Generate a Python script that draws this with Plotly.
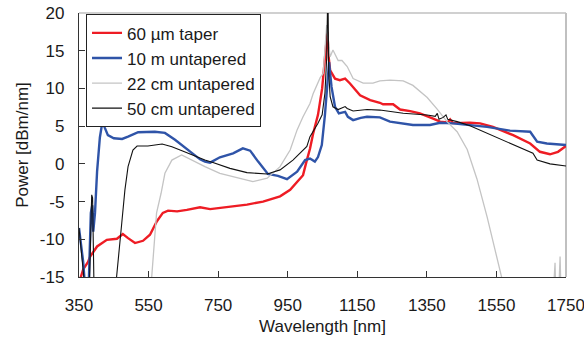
import plotly.graph_objects as go

# ---------------- data ----------------
taper_wl = [352, 362, 376, 382, 402, 430, 459, 476, 491, 511, 534, 554, 574, 591, 606, 632, 660,
            698, 727, 775, 833, 879, 928, 957, 977, 994, 1005, 1014, 1023, 1037, 1049, 1057, 1062,
            1064, 1068, 1072, 1086, 1100, 1115, 1129, 1158, 1187, 1215, 1224, 1253, 1273, 1302,
            1330, 1368, 1388, 1410, 1417, 1425, 1474, 1503, 1540, 1598, 1647, 1675, 1704, 1727, 1750]
taper_pw = [-15.5, -14.0, -13.0, -12.3, -10.95, -10.07, -9.93, -9.3, -9.85, -10.5, -10.2, -9.4,
            -7.6, -6.5, -6.2, -6.3, -6.1, -5.75, -6.0, -5.75, -5.4, -5.0, -4.3, -3.45, -2.4, -1.5,
            0.5, 2.0, 4.0, 6.5, 10.0, 14.0, 17.0, 17.5, 14.0, 12.4, 11.3, 11.1, 11.3, 10.66, 9.1,
            8.45, 8.1, 7.9, 7.9, 7.2, 7.0, 6.7, 6.0, 5.6, 5.5, 5.9, 5.4, 5.45, 5.37, 4.9, 3.8,
            2.7, 1.6, 1.27, 1.6, 2.37]

m10_wl = [350, 362, 367, 378, 384, 388, 391, 394, 396, 402, 410, 416, 419, 424, 433, 450, 474,
          491, 520, 568, 597, 626, 663, 698, 712, 727, 755, 793, 821, 842, 865, 893, 922, 948,
          977, 1000, 1014, 1028, 1037, 1048, 1057, 1064, 1067, 1069, 1072, 1076, 1086, 1097,
          1106, 1115, 1123, 1138, 1160, 1178, 1215, 1244, 1310, 1359, 1388, 1425, 1523, 1589,
          1647, 1667, 1695, 1750]
m10_pw = [-8.5, -13.0, -16.0, -16.0, -6.5, -5.5, -9.0, -7.0, -6.5, -1.0, 3.5, 5.2, 5.45, 4.8,
          3.8, 3.4, 3.3, 3.6, 4.2, 4.26, 4.1, 3.2, 1.84, 0.6, 0.3, 0.16, 0.87, 1.4, 2.06, 1.75,
          0.3, -1.34, -1.6, -2.04, -1.03, 0.5, 0.7, 0.3, 0.9, 2.5, 6.5, 11.0, 13.4, 13.5, 12.0,
          10.2, 7.57, 6.7, 6.8, 6.9, 6.24, 5.8, 6.1, 6.24, 6.16, 5.6, 5.15, 5.15, 5.45, 5.37,
          4.9, 4.4, 4.26, 2.94, 2.7, 2.5]

cm22_wl = [555, 559, 573, 586, 597, 617, 645, 674, 712, 755, 813, 850, 891, 928, 957, 977, 994,
           1014, 1023, 1043, 1052, 1060, 1062, 1065, 1072, 1080, 1095, 1106, 1121, 1138, 1167,
           1195, 1215, 1244, 1282, 1310, 1351, 1379, 1408, 1437, 1466, 1494, 1523, 1546, 1565,
           1570, 1715, 1718.5, 1720, 1730, 1733, 1735, 1750]
cm22_pw = [-16.0, -15.0, -6.5, -3.9, -1.25, 0.5, 1.18, 0.5, -0.37, -1.25, -1.9, -2.35, -1.9,
           -0.37, 1.84, 4.5, 6.24, 8.0, 9.3, 11.4, 12.0, 17.7, 18.4, 17.0, 14.2, 15.1, 13.7, 13.7,
           12.9, 11.3, 10.7, 10.7, 11.0, 11.1, 11.0, 10.4, 8.8, 7.3, 5.6, 4.26, 1.9, -2.0, -7.0,
           -11.4, -15.0, -16.0, -16.0, -13.1, -16.0, -16.0, -12.3, -16.0, -16.0]

cm50_wl = [350, 356, 362, 366, 380, 383, 386.5, 389, 391, 393, 455, 458, 473, 482, 491, 505,
           517, 548, 589, 617, 646, 675, 712, 735, 784, 833, 891, 928, 965, 1005, 1014, 1037,
           1049, 1057, 1062, 1064.5, 1066, 1068, 1072, 1080, 1095, 1115, 1121, 1138, 1178, 1215,
           1282, 1351, 1374, 1380, 1385, 1397, 1405, 1410, 1437, 1474, 1569, 1655, 1667, 1704, 1750]
cm50_pw = [-8.5, -11.0, -14.0, -16.0, -16.0, -8.0, -4.1, -4.5, -10.0, -16.0, -16.0, -15.0, -7.8,
           -3.45, -0.37, 1.84, 2.37, 2.37, 2.63, 2.28, 1.75, 1.18, 0.5, 0.17, -0.6, -1.16, -1.34,
           -0.8, 0.5, 2.3, 3.6, 5.37, 6.5, 9.4, 14.0, 21.0, 21.0, 12.0, 8.9, 7.57, 7.2, 7.6,
           7.35, 7.0, 7.2, 7.13, 6.7, 6.47, 6.3, 6.7, 5.9, 6.16, 6.5, 5.9, 5.6, 5.05, 3.16, 1.4,
           0.5, 0.0, -0.28]

x_ticks = [350, 550, 750, 950, 1150, 1350, 1550, 1750]
y_ticks = [-15, -10, -5, 0, 5, 10, 15, 20]

FONT = "Liberation Sans, Arial, sans-serif"
TXT = "#1a1a1a"

fig = go.Figure()
fig.add_trace(go.Scatter(x=taper_wl, y=taper_pw, mode="lines", name="60 µm taper",
                         line=dict(color="#ee1c24", width=2.4)))
fig.add_trace(go.Scatter(x=m10_wl, y=m10_pw, mode="lines", name="10 m untapered",
                         line=dict(color="#2f54a8", width=2.4)))
fig.add_trace(go.Scatter(x=cm22_wl, y=cm22_pw, mode="lines", name="22 cm untapered",
                         line=dict(color="#c4c4c4", width=1.3)))
fig.add_trace(go.Scatter(x=cm50_wl, y=cm50_pw, mode="lines", name="50 cm untapered",
                         line=dict(color="#111111", width=1.1)))

fig.update_layout(
    width=584, height=347,
    margin=dict(l=79, r=18, t=13, b=70, autoexpand=False),
    paper_bgcolor="white", plot_bgcolor="white",
    font=dict(family=FONT, size=17, color=TXT),
    showlegend=True,
    legend=dict(x=0.0144, y=0.995, xanchor="left", yanchor="top",
                bgcolor="white", bordercolor="#222", borderwidth=1,
                font=dict(family=FONT, size=17, color=TXT),
                tracegroupgap=0, itemwidth=30),
    xaxis=dict(range=[350, 1750], tickmode="array", tickvals=x_ticks,
               ticktext=[str(v) for v in x_ticks], automargin=False,
               ticklabeloverflow="allow",
               ticks="inside", ticklen=6, tickcolor="#333", showgrid=False, zeroline=False,
               showline=True, linecolor="#333", linewidth=1.3, ticklabelstandoff=12,
               title=dict(text="Wavelength [nm]", font=dict(size=17, color=TXT), standoff=6)),
    yaxis=dict(range=[-15, 20], tickmode="array", tickvals=y_ticks,
               ticktext=[str(v) for v in y_ticks], automargin=False,
               ticklabeloverflow="allow",
               ticks="inside", ticklen=6, tickcolor="#333", showgrid=False, zeroline=False,
               showline=True, linecolor="#333", linewidth=1.3, ticklabelstandoff=10,
               title=dict(text="Power [dBm/nm]", font=dict(size=17, color=TXT), standoff=6)),
    shapes=[
        dict(type="line", xref="paper", yref="paper", x0=0, x1=1, y0=1, y1=1,
             line=dict(color="#c0c0c0", width=1.3), layer="below"),
        dict(type="line", xref="paper", yref="paper", x0=1, x1=1, y0=0, y1=1,
             line=dict(color="#c0c0c0", width=2), layer="below"),
    ],
)

fig.write_html("out.html", config={"displayModeBar": False},
               post_script="document.body.style.margin='0';document.body.style.padding='0';")
